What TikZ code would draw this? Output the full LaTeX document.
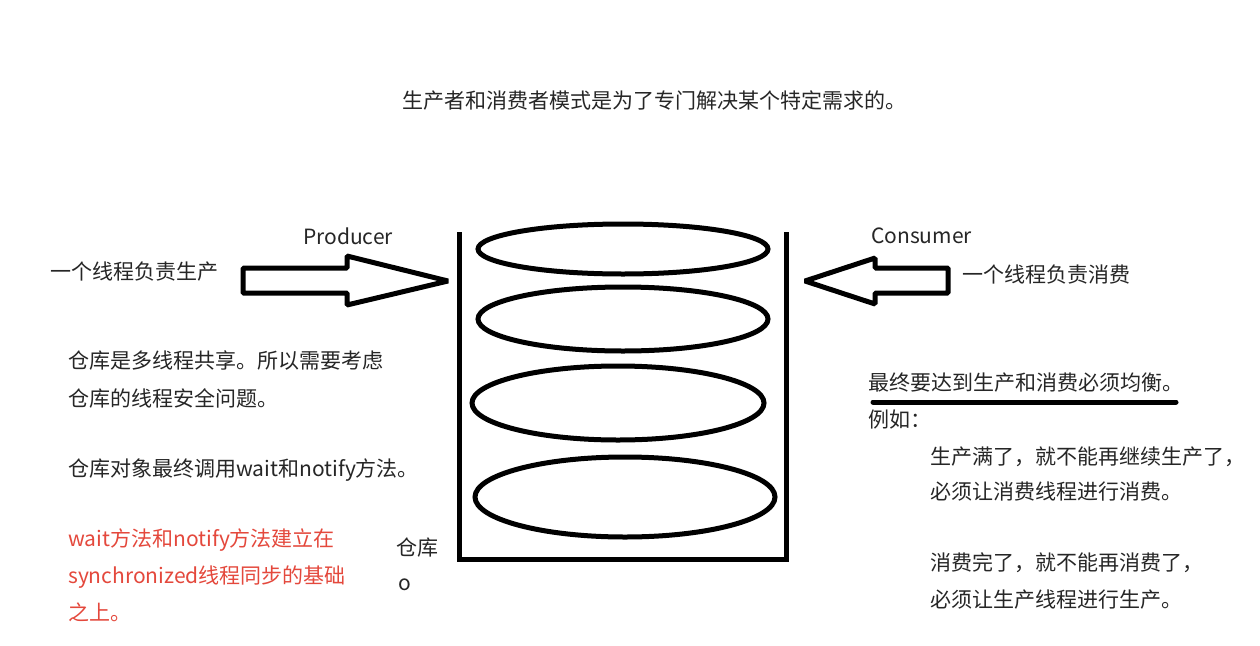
\documentclass[tikz,border=0pt]{standalone}
\usepackage{fontspec}
\setmainfont{Noto Sans CJK SC}

\begin{document}
\begin{tikzpicture}[x=1pt,y=-1pt]
\tikzstyle{txt}=[anchor=west, inner sep=0pt, text=black!85, font=\fontsize{21}{25}\selectfont]
\tikzstyle{redtxt}=[txt, text={rgb,255:red,228;green,72;blue,60}]
\tikzstyle{heavy}=[line width=5pt]

\useasboundingbox (0,0) rectangle (1260,645);
\fill[white] (0,0) rectangle (1260,645);

% title
\node[txt, anchor=center] (title) at (654,101) {生产者和消费者模式是为了专门解决某个特定需求的。};

% warehouse
\draw[heavy, line join=miter] (459,232) -- (459,559) -- (786,559) -- (786,232);
\foreach \cx/\cy/\rx/\ry in {623/249/145/25, 623/319/145/32, 618/403/146/37, 625/497/150/40} {
\draw[heavy] (\cx,\cy) ellipse [x radius=\rx, y radius=\ry];
}
\node[txt] (store) at (396,548) {仓库};
\node[txt] (storeo) at (398,585) {o};

% producer side
\node[txt] (prod) at (303,236) {Producer};
\node[txt] (prodnote) at (50,272) {一个线程负责生产};
\draw[heavy, line join=bevel] (243,268) -- (347,268) -- (347,256) -- (448,281) -- (347,305) -- (347,293) -- (243,293) -- cycle;

\node[txt] (share1) at (68,361) {仓库是多线程共享。所以需要考虑};
\node[txt] (share2) at (68,398) {仓库的线程安全问题。};
\node[txt] (call) at (68,470) {仓库对象最终调用wait和notify方法。};
\node[redtxt] (sync1) at (68,540) {wait方法和notify方法建立在};
\node[redtxt] (sync2) at (68,577) {synchronized线程同步的基础};
\node[redtxt] (sync3) at (68,612) {之上。};

% consumer side
\node[txt] (cons) at (871,236) {Consumer};
\node[txt] (consnote) at (962,275) {一个线程负责消费};
\draw[heavy, line join=bevel] (948,268) -- (875,268) -- (875,258) -- (805,281) -- (875,304) -- (875,293) -- (948,293) -- cycle;

\node[txt] (goal) at (868,383) {最终要达到生产和消费必须均衡。};
\draw[heavy, line cap=round] (873,402) -- (1176,402);
\node[txt] (eg) at (868,420) {例如：};
\node[txt] (full1) at (930,457) {生产满了，就不能再继续生产了，};
\node[txt] (full2) at (930,492) {必须让消费线程进行消费。};
\node[txt] (empty1) at (930,563) {消费完了，就不能再消费了，};
\node[txt] (empty2) at (930,600) {必须让生产线程进行生产。};

\end{tikzpicture}
\end{document}
